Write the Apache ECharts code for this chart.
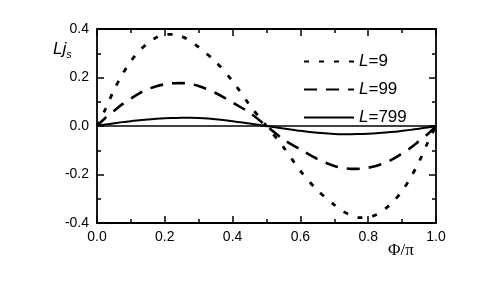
<!DOCTYPE html>
<html>
<head>
<meta charset="utf-8">
<script src="https://cdn.jsdelivr.net/npm/echarts@6/dist/echarts.min.js"></script>
<style>html,body{margin:0;padding:0;background:#fff;}#c{width:485px;height:299px;}</style>
</head>
<body>
<div id="c"></div>
<script>
// Φ/π sample positions
var phi = [0, 0.025, 0.05, 0.075, 0.1, 0.125, 0.15, 0.175, 0.2, 0.225, 0.25, 0.275, 0.3, 0.35, 0.4, 0.45, 0.5,
           0.55, 0.6, 0.65, 0.7, 0.725, 0.75, 0.775, 0.8, 0.825, 0.85, 0.875, 0.9, 0.925, 0.95, 0.975, 1.0];
var L9   = [0, 0.07, 0.148, 0.213, 0.268, 0.31, 0.342, 0.365, 0.377, 0.378, 0.369, 0.351, 0.325, 0.265, 0.185, 0.087, 0,
           -0.087, -0.185, -0.265, -0.325, -0.351, -0.369, -0.378, -0.377, -0.365, -0.342, -0.31, -0.268, -0.213, -0.148, -0.07, 0];
var L99  = [0, 0.034, 0.062, 0.09, 0.113, 0.135, 0.152, 0.164, 0.172, 0.176, 0.177, 0.173, 0.165, 0.136, 0.097, 0.055, 0,
           -0.055, -0.097, -0.136, -0.165, -0.173, -0.177, -0.176, -0.172, -0.164, -0.152, -0.135, -0.113, -0.09, -0.062, -0.034, 0];
var L799 = [0, 0.006, 0.011, 0.016, 0.02, 0.024, 0.027, 0.03, 0.032, 0.033, 0.034, 0.034, 0.033, 0.028, 0.02, 0.01, 0,
           -0.01, -0.02, -0.028, -0.033, -0.034, -0.034, -0.033, -0.032, -0.03, -0.027, -0.024, -0.02, -0.016, -0.011, -0.006, 0];
var seriesNames = ['L=9', 'L=99', 'L=799'];
var xTicks = [0, 0.2, 0.4, 0.6, 0.8, 1.0];
var yTicks = [-0.4, -0.2, 0, 0.2, 0.4];

function pairs(ys) { return phi.map(function (x, i) { return [x, ys[i]]; }); }

var font = 'Liberation Sans, Arial, sans-serif';
var axisCommon = {
  axisLine: { show: true, onZero: false, lineStyle: { color: '#000', width: 1.8 } },
  axisTick: { show: true, inside: true, length: 7, lineStyle: { color: '#000', width: 1.5 } },
  minorTick: { show: true, splitNumber: 2, length: 4, lineStyle: { color: '#000', width: 1.5 } },
  splitLine: { show: false }
};
function fmt(v) { return v.toFixed(1); }

var chart = echarts.init(document.getElementById('c'));
chart.setOption({
  animation: false,
  backgroundColor: '#fff',
  grid: { left: 97, top: 29, right: 49, bottom: 76 },
  xAxis: [
    Object.assign({ type: 'value', min: xTicks[0], max: xTicks[xTicks.length - 1], interval: 0.2, position: 'bottom',
      axisLabel: { color: '#000', fontFamily: font, fontSize: 14, margin: 7, formatter: fmt } }, axisCommon),
    Object.assign({ type: 'value', min: 0, max: 1, interval: 0.2, position: 'top', axisLabel: { show: false } }, axisCommon)
  ],
  yAxis: [
    Object.assign({ type: 'value', min: yTicks[0], max: yTicks[yTicks.length - 1], interval: 0.2, position: 'left',
      axisLabel: { color: '#000', fontFamily: font, fontSize: 14, margin: 8, formatter: fmt } }, axisCommon),
    Object.assign({ type: 'value', min: -0.4, max: 0.4, interval: 0.2, position: 'right', axisLabel: { show: false } }, axisCommon)
  ],
  legend: {
    orient: 'vertical', left: 298, top: 48, itemWidth: 50, itemHeight: 14, itemGap: 11,
    data: seriesNames,
    itemStyle: { opacity: 0 },
    formatter: function (n) { return '{i|L}=' + n.split('=')[1]; },
    textStyle: { color: '#000', fontFamily: font, fontSize: 17,
      rich: { i: { fontStyle: 'italic', fontFamily: font, fontSize: 17, color: '#000' } } }
  },
  series: [
    { name: seriesNames[0], type: 'line', data: pairs(L9), symbol: 'none', smooth: 0.3,
      lineStyle: { color: '#000', width: 2.8, type: [5, 10] }, itemStyle: { color: '#000' },
      markLine: { silent: true, symbol: 'none', label: { show: false },
        lineStyle: { color: '#000', width: 1.5, type: 'solid' }, data: [{ yAxis: 0 }] } },
    { name: seriesNames[1], type: 'line', data: pairs(L99), symbol: 'none', smooth: 0.3,
      lineStyle: { color: '#000', width: 2.6, type: [13, 9] }, itemStyle: { color: '#000' } },
    { name: seriesNames[2], type: 'line', data: pairs(L799), symbol: 'none', smooth: 0.3,
      lineStyle: { color: '#000', width: 2, type: 'solid' }, itemStyle: { color: '#000' } }
  ],
  graphic: [
    { type: 'text', left: 53, top: 41, style: { text: '{i|Lj}{s|s}', fill: '#000',
      rich: { i: { fontStyle: 'italic', fontFamily: font, fontSize: 17, fill: '#000' },
              s: { fontStyle: 'italic', fontFamily: font, fontSize: 11, fill: '#000', padding: [10, 0, 0, 0] } } } },
    { type: 'text', left: 388, top: 242, style: { text: 'Φ/π', fill: '#000', fontFamily: 'Liberation Serif, Times New Roman, serif', fontSize: 17 } }
  ]
});
</script>
</body>
</html>
